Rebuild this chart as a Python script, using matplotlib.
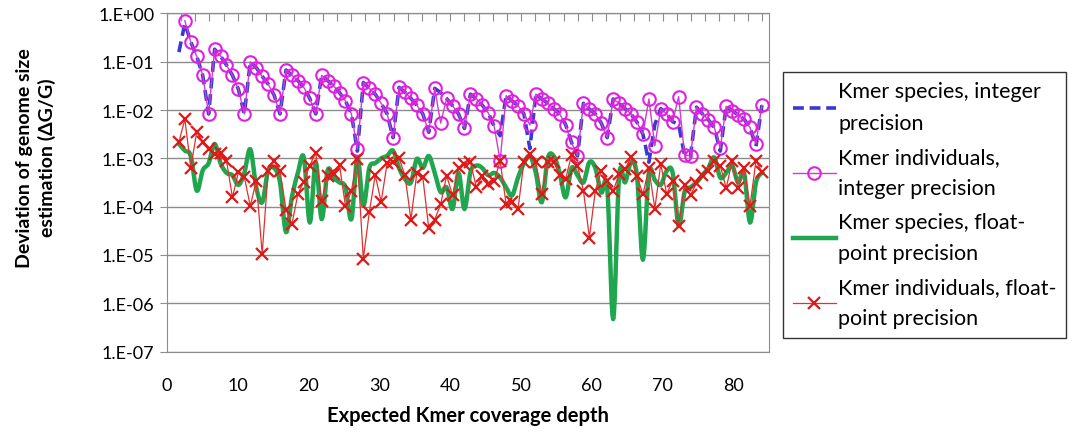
import numpy as np
import matplotlib.pyplot as plt
from matplotlib.ticker import FixedLocator, FuncFormatter, NullFormatter

plt.rcParams['font.family'] = ['Lato', 'DejaVu Sans']

# coverage depth of each sample (k = 2..100, step 0.84)
depth = np.arange(2, 101) * 0.84

# log10 of deviation
ind_int = [np.nan, -0.15, -0.59, -0.89, -1.28, -2.08, -0.74, -0.88, -1.07, -1.28,
           -1.57, -2.08, -1.00, -1.12, -1.30, -1.46, -1.69, -2.08, -1.17, -1.28,
           -1.39, -1.53, -1.76, -2.08, -1.28, -1.39, -1.50, -1.64, -1.81, -2.08,
           -2.81, -1.43, -1.55, -1.67, -1.86, -2.08, -2.57, -1.53, -1.63, -1.76,
           -1.90, -2.08, -2.46, -1.55, -2.27, -1.76, -1.91, -2.08, -2.38, -1.67,
           -1.77, -1.90, -2.06, -2.34, -3.05, -1.70, -1.81, -1.91, -2.08, -2.31,
           -1.67, -1.77, -1.86, -1.97, -2.08, -2.30, -2.67, -2.95, -1.86, -1.98,
           -2.08, -2.27, -2.57, -1.77, -1.86, -1.97, -2.08, -2.25, -2.50, -1.77,
           -2.74, -1.97, -2.08, -2.24, -1.72, -2.93, -2.95, -1.94, -2.08, -2.20,
           -2.36, -2.79, -1.92, -2.01, -2.10, -2.19, -2.36, -2.70, -1.90]

spc_int = [-0.80, -0.20, -0.59, -0.89, -1.28, -2.08, -0.74, -0.88, -1.07, -1.28,
           -1.57, -2.08, -1.00, -1.12, -1.30, -1.46, -1.69, -2.08, -1.17, -1.28,
           -1.39, -1.53, -1.76, -2.08, -1.28, -1.39, -1.50, -1.64, -1.81, -2.08,
           -2.85, -1.43, -1.55, -1.67, -1.86, -2.08, -2.57, -1.53, -1.63, -1.76,
           -1.90, -2.08, -2.46, -1.55, -1.64, -1.76, -1.91, -2.08, -2.38, -1.67,
           -1.77, -1.90, -2.06, -2.34, -2.53, -1.70, -1.81, -1.91, -2.08, -2.80,
           -1.67, -1.77, -1.86, -1.97, -2.08, -2.30, -2.67, -2.95, -1.86, -1.98,
           -2.08, -2.27, -2.57, -1.77, -1.86, -1.97, -2.08, -2.25, -2.50, -3.08,
           -2.30, -1.97, -2.08, -2.24, -2.30, -2.93, -2.95, -1.94, -2.08, -2.20,
           -2.36, -2.85, -1.92, -2.01, -2.10, -2.19, -2.36, -2.75, -1.90]

spc_flt = [-2.70, -2.84, -2.95, -3.67, -3.25, -3.10, -2.70, -3.10, -3.30, -3.35,
           -3.55, -3.30, -2.81, -3.60, -3.91, -3.25, -3.20, -3.50, -4.53, -3.80,
           -3.30, -2.98, -4.33, -3.08, -4.26, -3.25, -3.40, -3.50, -3.60, -4.26,
           -2.98, -3.98, -3.20, -3.10, -3.00, -2.95, -2.84, -3.20, -3.43, -3.50,
           -3.01, -3.20, -2.95, -3.30, -3.70, -3.60, -4.05, -3.30, -4.05, -3.29,
           -3.15, -3.20, -3.35, -3.30, -3.40, -3.60, -3.77, -3.40, -3.10, -2.95,
           -3.30, -3.91, -3.00, -2.95, -3.30, -3.81, -3.20, -3.35, -3.50, -3.08,
           -3.20, -3.71, -3.60, -6.33, -3.36, -3.50, -3.08, -3.36, -5.10, -3.30,
           -3.45, -3.55, -3.26, -3.30, -4.40, -3.70, -3.60, -3.50, -3.35, -3.20,
           -2.98, -3.40, -3.30, -3.15, -3.50, -3.30, -4.33, -3.50, -3.30]

ind_flt = [-2.66, -2.19, -3.19, -2.45, -2.66, -2.81, -2.91, -2.88, -3.05, -3.81,
           -3.29, -3.39, -3.99, -3.46, -4.98, -3.26, -3.05, -3.26, -4.06, -4.36,
           -3.74, -3.48, -3.15, -2.88, -3.88, -3.36, -3.33, -3.14, -3.99, -3.67,
           -3.01, -5.08, -4.12, -3.35, -3.90, -3.10, -3.07, -3.00, -3.35, -4.27,
           -3.30, -3.39, -4.45, -4.27, -3.95, -3.36, -3.76, -3.21, -3.12, -3.08,
           -3.60, -3.36, -3.53, -3.46, -3.05, -3.95, -3.90, -4.05, -3.07, -2.91,
           -3.08, -3.74, -3.07, -3.07, -3.35, -3.43, -2.93, -3.15, -3.67, -4.64,
           -3.67, -3.26, -3.46, -3.67, -3.33, -3.22, -2.98, -3.37, -3.74, -3.21,
           -4.04, -3.12, -3.74, -3.46, -4.41, -3.55, -3.76, -3.51, -3.35, -3.26,
           -3.05, -3.15, -3.62, -3.05, -3.62, -3.21, -3.99, -3.05, -3.28]

labels = ["Kmer species, integer\nprecision",
          "Kmer individuals,\ninteger precision",
          "Kmer species, float-\npoint precision",
          "Kmer individuals, float-\npoint precision"]


def smooth(x, y, n=8):
    # Catmull-Rom curve through the points, like Excel's "smoothed line"
    x = np.asarray(x, float)
    y = np.asarray(y, float)
    px = np.concatenate([[x[0]], x, [x[-1]]])
    py = np.concatenate([[y[0]], y, [y[-1]]])
    t = np.linspace(0, 1, n, endpoint=False)[:, None]
    out = []
    for arr in (px, py):
        p0, p1, p2, p3 = arr[:-3], arr[1:-2], arr[2:-1], arr[3:]
        seg = 0.5 * ((2 * p1) + (-p0 + p2) * t + (2 * p0 - 5 * p1 + 4 * p2 - p3) * t ** 2
                     + (-p0 + 3 * p1 - 3 * p2 + p3) * t ** 3)
        out.append(np.concatenate([seg.T.ravel(), [arr[-2]]]))
    return out


fig = plt.figure(figsize=(10.74, 4.39), dpi=100)
ax = fig.add_axes([0.1555, 0.197, 0.5605, 0.770])

grid_c = '#8c8c8c'
l1, = ax.plot(depth, 10 ** np.array(spc_int), color='#3a3ad0', lw=2.6,
              dashes=(3.0, 1.6), zorder=3)
l2, = ax.plot(depth, 10 ** np.array(ind_int), color='#d23ad2', lw=1.0,
              marker='o', ms=9, mfc='none', mec='#e020e0', mew=1.5, zorder=4)
gx, gy = smooth(depth, spc_flt)
l3, = ax.plot(gx, 10 ** gy, color='#1fa64e', lw=3.2, zorder=2)
l4, = ax.plot(depth, 10 ** np.array(ind_flt), color='#e03030', lw=0.9,
              marker='x', ms=9, mec='#e01818', mew=1.6, zorder=5)

ax.set_yscale('log')
ax.set_ylim(1e-7, 1)
ax.set_xlim(0, 85)
ax.yaxis.set_major_locator(FixedLocator([10.0 ** e for e in range(-7, 1)]))
ax.yaxis.set_minor_locator(FixedLocator([]))
ax.yaxis.set_major_formatter(FuncFormatter(
    lambda v, p: "1.E%+03d" % int(round(np.log10(v)))))
ax.grid(axis='y', color=grid_c, lw=1.0)
ax.set_axisbelow(True)

ax.set_xticks(range(0, 81, 10))
ax.tick_params(axis='x', length=0, pad=18, labelsize=13)
ax.tick_params(axis='y', length=5, color=grid_c, labelsize=13, pad=4)
for s in ax.spines.values():
    s.set_color(grid_c)

# axis crosses at 1.0 in the original, so tick marks sit on the top edge
top = ax.secondary_xaxis('top')
top.set_xticks(np.arange(0, 86, 2))
top.xaxis.set_major_formatter(NullFormatter())
top.tick_params(direction='in', length=6, color=grid_c)
top.spines['top'].set_color(grid_c)

ax.set_xlabel("Expected Kmer coverage depth", fontsize=14.5, fontweight='bold',
              labelpad=9)
fig.text(36 / 1074, 0.64, "Deviation of genome size\nestimation (\u0394G/G)",
         rotation=90, ha='center', va='center', fontsize=14,
         fontweight='bold', linespacing=1.35)

leg = fig.legend([l1, l2, l3, l4], labels, loc='lower left',
                 bbox_to_anchor=(0.729, 0.228), fontsize=15.5, frameon=True,
                 fancybox=False, edgecolor='black', handlelength=2.0,
                 handletextpad=0.12, labelspacing=0.65, borderpad=0.45,
                 borderaxespad=0)
for t in leg.get_texts():
    t.set_linespacing(1.7)
leg.get_frame().set_linewidth(1.0)

fig.savefig("out.png", dpi=100)
